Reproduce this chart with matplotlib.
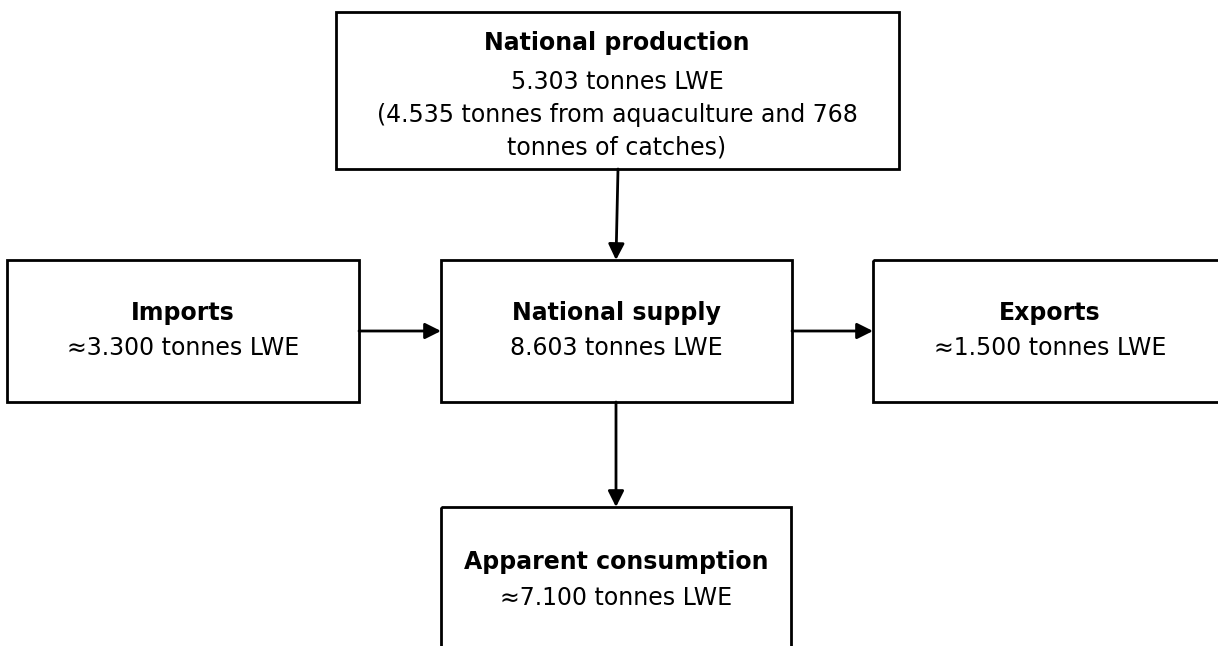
import matplotlib.pyplot as plt
from matplotlib.patches import Rectangle

plt.rcParams['font.family'] = ['DejaVu Sans']

# node texts
titles = ['National production', 'Imports', 'National supply', 'Exports', 'Apparent consumption']
bodies = ['5.303 tonnes LWE\n(4.535 tonnes from aquaculture and 768\ntonnes of catches)',
          '≈3.300 tonnes LWE',
          '8.603 tonnes LWE',
          '≈1.500 tonnes LWE',
          '≈7.100 tonnes LWE']

# layout in pixels (x0, y0, x1, y1), y grows downwards
boxes = [(336, 12, 899, 169),
         (7, 260, 359, 402),
         (441, 260, 792, 402),
         (873, 260, 1230, 402),
         (441, 507, 791, 660)]
text_x = [617, 183, 616, 1050, 616]
title_y = [43, 313, 313, 313, 562]
body_y = [115, 348, 348, 348, 598]

# arrows (from, to)
links = [((618, 169), (616, 260)),
         ((359, 331), (441, 331)),
         ((792, 331), (873, 331)),
         ((616, 402), (616, 507))]

fig = plt.figure(figsize=(12.18, 6.46), dpi=100)
ax = fig.add_axes([0, 0, 1, 1])
ax.set_xlim(0, 1218)
ax.set_ylim(646, 0)
ax.axis('off')

for (x0, y0, x1, y1), t, b, cx, ty, by in zip(boxes, titles, bodies, text_x, title_y, body_y):
    ax.add_patch(Rectangle((x0, y0), x1 - x0, y1 - y0, fill=False, ec='black', lw=2))
    ax.text(cx, ty, t, ha='center', va='center', fontsize=17, fontweight='bold')
    ax.text(cx, by, b, ha='center', va='center', fontsize=17, linespacing=1.46)

for (p0, p1) in links:
    ax.annotate('', xy=p1, xytext=p0,
                arrowprops=dict(arrowstyle='-|>', color='black', lw=2,
                                mutation_scale=24, shrinkA=0, shrinkB=0))

fig.savefig('out.png', dpi=100)
